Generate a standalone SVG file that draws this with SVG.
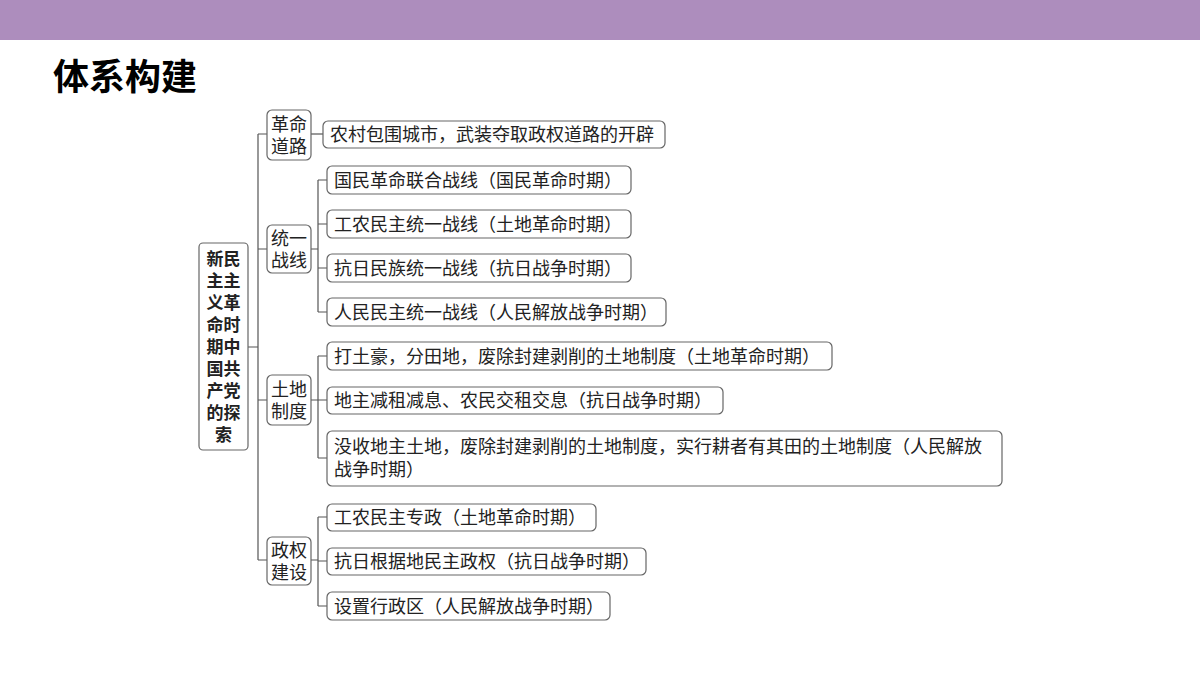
<svg xmlns="http://www.w3.org/2000/svg" width="1200" height="675" viewBox="0 0 1200 675">
<style>
.b{fill:#fff;stroke:#666;stroke-width:1.2}
.t{font-family:"Noto Sans CJK SC",sans-serif;font-size:18px;fill:#222}
.c{font-family:"Noto Sans CJK SC",sans-serif;font-size:18px;fill:#222}
.l{fill:none;stroke:#555;stroke-width:1.2}
</style>
<rect x="0" y="0" width="1200" height="40" fill="#AD8DBD"/>
<text x="53" y="90" font-family="Noto Sans CJK SC,sans-serif" font-size="36" font-weight="bold" fill="#000">体系构建</text>
<g id="connectors">
<path class="l" d="M248 347H258M258 134V560M258 134H267M258 249H267M258 400H267M258 560H267"/>
<path class="l" d="M311 134H323"/>
<path class="l" d="M311 249H318M318 180V312M318 180H327M318 224H327M318 268H327M318 312H327"/>
<path class="l" d="M311 400H318M318 356V458M318 356H327M318 400H327M318 458H327"/>
<path class="l" d="M311 560H318M318 517V606M318 517H327M318 561H327M318 606H327"/>
</g>
<g id="root"><rect class="b" x="199" y="243" width="49" height="207" rx="4"/>
<text font-family="Noto Sans CJK SC,sans-serif" font-size="17" font-weight="bold" fill="#222" text-anchor="middle"><tspan x="223.5" y="265">新民</tspan><tspan x="223.5" y="287">主主</tspan><tspan x="223.5" y="309">义革</tspan><tspan x="223.5" y="331">命时</tspan><tspan x="223.5" y="353">期中</tspan><tspan x="223.5" y="375">国共</tspan><tspan x="223.5" y="397">产党</tspan><tspan x="223.5" y="419">的探</tspan><tspan x="223.5" y="441">索</tspan></text></g>
<g id="c1"><rect class="b" x="267" y="110" width="44" height="50" rx="5"/><text class="c" text-anchor="middle"><tspan x="289" y="131">革命</tspan><tspan x="289" y="153">道路</tspan></text></g>
<g id="c2"><rect class="b" x="267" y="225" width="44" height="48" rx="5"/><text class="c" text-anchor="middle"><tspan x="289" y="245">统一</tspan><tspan x="289" y="267">战线</tspan></text></g>
<g id="c3"><rect class="b" x="267" y="375" width="44" height="50" rx="5"/><text class="c" text-anchor="middle"><tspan x="289" y="396">土地</tspan><tspan x="289" y="418">制度</tspan></text></g>
<g id="c4"><rect class="b" x="267" y="537" width="44" height="48" rx="5"/><text class="c" text-anchor="middle"><tspan x="289" y="557">政权</tspan><tspan x="289" y="579">建设</tspan></text></g>
<g id="l1"><rect class="b" x="323" y="121" width="342" height="27" rx="5"/><text class="t" x="330" y="141">农村包围城市，武装夺取政权道路的开辟</text></g>
<g id="l2"><rect class="b" x="327" y="166" width="304" height="28" rx="5"/><text class="t" x="334" y="187">国民革命联合战线（国民革命时期）</text></g>
<g id="l3"><rect class="b" x="327" y="210" width="304" height="28" rx="5"/><text class="t" x="334" y="231">工农民主统一战线（土地革命时期）</text></g>
<g id="l4"><rect class="b" x="327" y="254" width="304" height="28" rx="5"/><text class="t" x="334" y="275">抗日民族统一战线（抗日战争时期）</text></g>
<g id="l5"><rect class="b" x="327" y="298" width="339" height="28" rx="5"/><text class="t" x="334" y="319">人民民主统一战线（人民解放战争时期）</text></g>
<g id="l6"><rect class="b" x="327" y="342" width="505" height="28" rx="5"/><text class="t" x="334" y="363">打土豪，分田地，废除封建剥削的土地制度（土地革命时期）</text></g>
<g id="l7"><rect class="b" x="327" y="387" width="396" height="27" rx="5"/><text class="t" x="334" y="407">地主减租减息、农民交租交息（抗日战争时期）</text></g>
<g id="l8"><rect class="b" x="327" y="431" width="675" height="55" rx="5"/><text class="t"><tspan x="334" y="453">没收地主土地，废除封建剥削的土地制度，实行耕者有其田的土地制度（人民解放</tspan><tspan x="334" y="476">战争时期）</tspan></text></g>
<g id="l9"><rect class="b" x="327" y="504" width="269" height="27" rx="5"/><text class="t" x="334" y="524">工农民主专政（土地革命时期）</text></g>
<g id="l10"><rect class="b" x="327" y="548" width="319" height="27" rx="5"/><text class="t" x="334" y="568">抗日根据地民主政权（抗日战争时期）</text></g>
<g id="l11"><rect class="b" x="327" y="592" width="283" height="28" rx="5"/><text class="t" x="334" y="613">设置行政区（人民解放战争时期）</text></g>
</svg>
